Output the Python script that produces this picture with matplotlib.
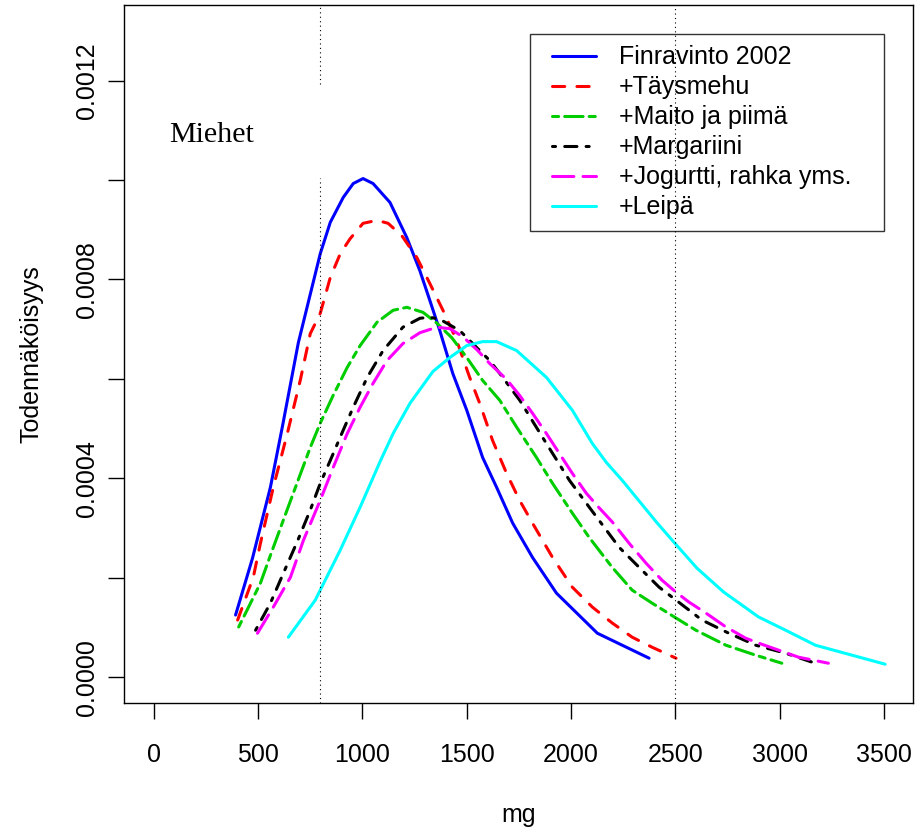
import matplotlib
matplotlib.use("Agg")
import matplotlib.pyplot as plt
from matplotlib.legend_handler import HandlerLine2D

plt.rcParams['font.family'] = ['Liberation Sans', 'DejaVu Sans']
plt.rcParams['font.size'] = 18

# --- jakaumat (mg, todennäköisyystiheys) ---
fin_x = [393, 474, 560, 617, 694, 799, 847, 909, 957, 1004, 1052, 1133, 1214, 1276, 1324,
         1372, 1434, 1501, 1577, 1644, 1721, 1816, 1931, 2127, 2375]
fin_y = [0.000125, 0.000239, 0.000382, 0.000503, 0.000673, 0.000852, 0.000915, 0.000965,
         0.000993, 0.001003, 0.000993, 0.000955, 0.000884, 0.000818, 0.000758, 0.000697,
         0.000611, 0.000537, 0.000442, 0.000382, 0.000310, 0.000241, 0.000169, 0.0000884,
         0.0000382]

mehu_x = [403, 478, 512, 574, 641, 703, 751, 799, 847, 895, 942, 1004, 1071, 1124, 1190,
          1262, 1324, 1387, 1453, 1515, 1563, 1625, 1692, 1754, 1816, 1912, 2007, 2103,
          2198, 2294, 2389, 2504]
mehu_y = [0.000115, 0.000201, 0.000269, 0.000382, 0.000490, 0.000597, 0.000691, 0.000732,
          0.000804, 0.000852, 0.000882, 0.000913, 0.000919, 0.000913, 0.000888, 0.000844,
          0.000792, 0.000738, 0.000677, 0.000603, 0.000551, 0.000476, 0.000410, 0.000356,
          0.000310, 0.000241, 0.000181, 0.000141, 0.000109, 0.0000804, 0.0000603, 0.0000382]

maito_x = [408, 512, 560, 622, 689, 751, 799, 861, 928, 990, 1071, 1148, 1214, 1291, 1358,
           1429, 1501, 1577, 1659, 1740, 1835, 1912, 2007, 2088, 2198, 2294, 2389, 2504,
           2599, 2743, 2886, 3011]
maito_y = [0.000101, 0.000189, 0.000245, 0.000316, 0.000392, 0.000462, 0.000511, 0.000567,
           0.000623, 0.000667, 0.000714, 0.000738, 0.000744, 0.000734, 0.000712, 0.000683,
           0.000643, 0.000597, 0.000557, 0.000503, 0.000442, 0.000390, 0.000330, 0.000281,
           0.000221, 0.000175, 0.000149, 0.000119, 0.0000945, 0.0000643, 0.0000442, 0.0000281]

marg_x = [489, 560, 622, 689, 751, 799, 847, 904, 957, 1024, 1100, 1195, 1277, 1324, 1372,
          1468, 1530, 1611, 1659, 1755, 1865, 1993, 2088, 2232, 2327, 2423, 2504, 2628,
          2757, 2886, 3029, 3171]
marg_y = [0.0000945, 0.000149, 0.000209, 0.000273, 0.000336, 0.000390, 0.000436, 0.000492,
          0.000543, 0.000603, 0.000657, 0.000704, 0.000722, 0.000724, 0.000720, 0.000697,
          0.000671, 0.000637, 0.000611, 0.000557, 0.000482, 0.000396, 0.000342, 0.000261,
          0.000221, 0.000181, 0.000155, 0.000115, 0.0000884, 0.0000643, 0.0000482, 0.0000281]

jog_x = [498, 574, 656, 718, 799, 861, 928, 990, 1052, 1119, 1195, 1277, 1358, 1420, 1482,
         1549, 1611, 1692, 1754, 1816, 1883, 1945, 2007, 2074, 2137, 2199, 2280, 2361, 2437,
         2504, 2566, 2647, 2743, 2838, 2901, 2996, 3091, 3234]
jog_y = [0.0000884, 0.000141, 0.000201, 0.000275, 0.000356, 0.000422, 0.000490, 0.000543,
         0.000591, 0.000637, 0.000671, 0.000693, 0.000704, 0.000701, 0.000685, 0.000659,
         0.000631, 0.000599, 0.000567, 0.000531, 0.000490, 0.000450, 0.000410, 0.000370,
         0.000340, 0.000312, 0.000269, 0.000229, 0.000195, 0.000171, 0.000151, 0.000129,
         0.000101, 0.0000784, 0.0000683, 0.0000543, 0.0000402, 0.0000281]

leipa_x = [646, 775, 894, 990, 1086, 1148, 1229, 1339, 1420, 1501, 1577, 1644, 1740, 1883,
           2007, 2103, 2170, 2246, 2328, 2414, 2495, 2605, 2733, 2900, 3029, 3172, 3506]
leipa_y = [0.0000804, 0.000155, 0.000255, 0.000342, 0.000434, 0.000490, 0.000551, 0.000615,
           0.000643, 0.000667, 0.000675, 0.000675, 0.000657, 0.000603, 0.000537, 0.000470,
           0.000432, 0.000396, 0.000354, 0.000310, 0.000271, 0.000219, 0.000171, 0.000121,
           0.0000945, 0.0000643, 0.0000261]

labels = ["Finravinto 2002", "+Täysmehu", "+Maito ja piimä", "+Margariini",
          "+Jogurtti, rahka yms.", "+Leipä"]
colors = ["#0000FF", "#FF0000", "#00CD00", "#000000", "#FF00FF", "#00FFFF"]
# R:n lty 1, 2, 6, 4, 5, 1
styles = ["-", (0, (4, 4)), (0, (2, 2, 6, 2)), (0, (1, 3, 4, 3)), (0, (7, 3)), "-"]

series = [(fin_x, fin_y), (mehu_x, mehu_y), (maito_x, maito_y),
          (marg_x, marg_y), (jog_x, jog_y), (leipa_x, leipa_y)]

# suositusrajat
limits = [800, 2500]

fig = plt.figure(figsize=(9.17, 8.31), dpi=100)
ax = fig.add_axes([0.1356, 0.1540, 0.8601, 0.8399])

handles = []
for (xs, ys), lab, col, ls in zip(series, labels, colors, styles):
    h, = ax.plot(xs, ys, color=col, linestyle=ls, linewidth=2.2,
                 dash_capstyle='round', solid_capstyle='round', label=lab)
    handles.append(h)

ax.set_xlim(-140, 3640)
ax.set_ylim(-0.000052, 0.001352)

# pystyviivat; 800 mg viivassa katko tekstin kohdalla
y0, y1 = ax.get_ylim()
frac = lambda v: (v - y0) / (y1 - y0)
dot = dict(color='black', linestyle=(0, (1, 3)), linewidth=0.8, zorder=3)
ax.axvline(limits[0], ymin=0, ymax=frac(0.001005), **dot)
ax.axvline(limits[0], ymin=frac(0.001194), ymax=1, **dot)
ax.axvline(limits[1], **dot)

ax.text(276, 0.00109, "Miehet", family=['Liberation Serif', 'DejaVu Serif'],
        fontsize=21.6, ha='center', va='center')

ax.set_xticks(range(0, 3501, 500))
yt = [0.0, 0.0002, 0.0004, 0.0006, 0.0008, 0.0010, 0.0012]
ax.set_yticks(yt)
ax.set_yticklabels([f"{v:.4f}" if i % 2 == 0 else "" for i, v in enumerate(yt)],
                   rotation=90, va='center')
ax.tick_params(axis='both', length=11.5, width=1.0, direction='out')
ax.tick_params(axis='x', pad=17)
ax.tick_params(axis='y', pad=7)
for sp in ax.spines.values():
    sp.set_linewidth(1.0)

ax.set_xlabel("mg")
ax.xaxis.set_label_coords(0.5, -0.143)
ax.set_ylabel("Todennäköisyys")
ax.yaxis.set_label_coords(-0.103, 0.5)

# selite: leveä kehys, viivanäytteet vähän sisennettyinä
W, H = 917, 831
leg_box = (530 / W, 1 - 233 / H, 354 / W, 199 / H)
leg = ax.legend(handles=handles, loc='upper left', mode='expand',
                bbox_to_anchor=leg_box, bbox_transform=fig.transFigure,
                fontsize=18, fancybox=False, edgecolor='black', facecolor='none',
                numpoints=2, handler_map={h: HandlerLine2D(marker_pad=0.43) for h in handles},
                handlelength=2.62, handletextpad=0.49, borderpad=0.45,
                labelspacing=0.24, borderaxespad=0)
leg.get_frame().set_linewidth(1.0)

fig.savefig("out.png", dpi=100)
